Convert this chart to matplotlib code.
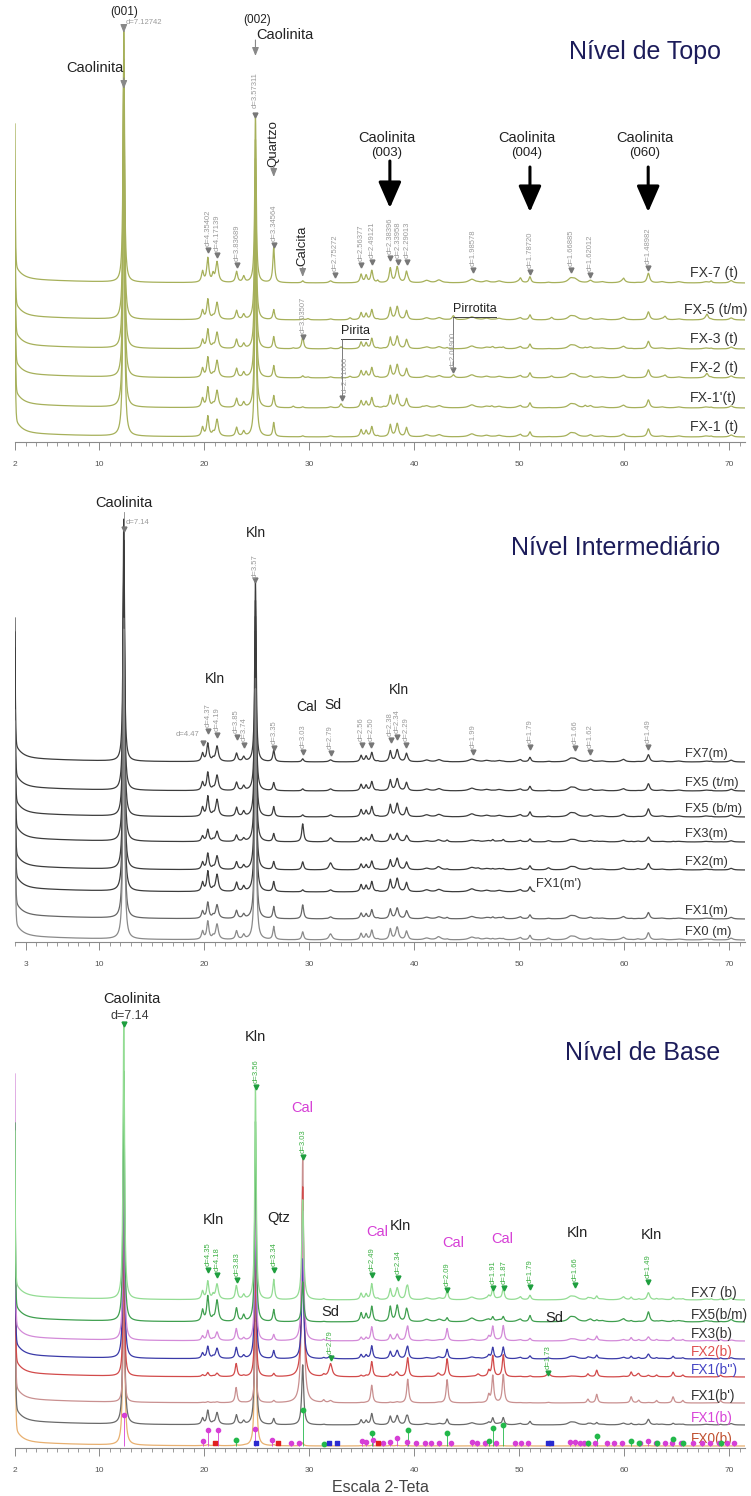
import numpy as np
import matplotlib.pyplot as plt
from matplotlib.ticker import FixedLocator, MultipleLocator

plt.rcParams["font.family"] = ["Liberation Sans", "DejaVu Sans"]

# ------------------ figure geometry (pixels) ------------------
W_PX, H_PX = 751, 1496
X_LEFT_PX, X_RIGHT_PX = 15, 745
TT_MIN, TT_MAX = 2.0, 71.52

# ------------------ mineral reflections (2-theta, Cu Ka) ------------------
KLN_001, KLN_002 = 12.36, 24.90
KLN_POS = [19.86, 20.36, 21.24, 23.10, 23.78, 34.96, 35.44, 35.98, 37.74, 38.40, 39.28,
           41.2, 42.4, 45.50, 46.9, 48.1, 50.0, 51.04, 54.90, 55.30, 56.80, 57.9, 59.90,
           62.32, 63.6, 65.2, 67.8, 70.2]
KLN_H = [9, 20, 17, 9, 5, 7, 6, 10, 12, 13, 9,
         2, 2, 3, 1.5, 1.5, 1.5, 5, 3, 3, 2, 1, 2,
         8, 1, 1, 1, 2]
KLN_W = [0.12, 0.12, 0.15, 0.12, 0.12, 0.12, 0.12, 0.12, 0.12, 0.15, 0.12,
         0.3, 0.3, 0.35, 0.3, 0.3, 0.3, 0.12, 0.3, 0.35, 0.2, 0.3, 0.3,
         0.15, 0.3, 0.3, 0.3, 0.2]
QTZ_POS = [20.86, 26.64, 36.54, 39.46, 50.14, 59.96, 68.30]
QTZ_REL = [0.2, 1.0, 0.06, 0.05, 0.1, 0.07, 0.05]
CAL_POS = [23.06, 29.40, 31.40, 35.97, 39.40, 43.15, 47.12, 47.50, 48.50, 56.56, 57.40,
           60.68, 61.40, 63.10, 64.67, 65.60, 69.20]
CAL_REL = [0.06, 1.0, 0.01, 0.07, 0.095, 0.095, 0.03, 0.11, 0.115, 0.015, 0.035,
           0.025, 0.01, 0.01, 0.025, 0.01, 0.01]
SD_POS = [24.80, 32.05, 38.30, 42.30, 46.10, 52.80, 61.30]
SD_REL = [0.2, 1.0, 0.2, 0.25, 0.2, 0.3, 0.15]
PY_POS = [28.50, 33.05, 37.10, 40.80, 47.40, 56.30]
PY_REL = [0.4, 1.0, 0.25, 0.2, 0.35, 0.5]
PO_POS = [29.90, 33.90, 43.75, 53.10, 63.90, 67.90]
PO_REL = [0.3, 0.5, 1.0, 0.6, 0.8, 1.2]

# ------------------ Nível de Topo ------------------
TOP_NAMES = ["FX-7 (t)", "FX-5 (t/m)", "FX-3 (t)", "FX-2 (t)", "FX-1'(t)", "FX-1 (t)"]
TOP_BASE = [159, 122, 93, 64, 34, 5]
TOP_K001 = [251, 260, 280, 300, 320, 330]
TOP_K002 = [168, 180, 190, 200, 210, 220]
TOP_KLN = [1.2, 1.0, 0.95, 1.0, 1.0, 1.0]
TOP_QTZ = [35, 10, 12, 12, 12, 14]
TOP_CAL = [2, 1, 12, 2, 1, 1]
TOP_SD = [2, 1, 1, 1, 1, 1]
TOP_PY = [0, 0, 2, 0, 4, 0]
TOP_PO = [0, 4, 0, 3, 0, 0]
TOP_SPIKE = [140, 120, 130, 140, 150, 160]

# ------------------ Nível Intermediário ------------------
MID_NAMES = ["FX7(m)", "FX5 (t/m)", "FX5 (b/m)", "FX3(m)", "FX2(m)", "FX1(m')", "FX1(m)", "FX0 (m)"]
MID_BASE = [180, 151, 125, 100, 72, 50, 23, 2]
MID_K001 = [242, 250, 260, 270, 280, 290, 300, 310]
MID_K002 = [180, 190, 200, 210, 220, 230, 240, 250]
MID_KLN = [0.9, 0.9, 1.0, 0.6, 0.8, 1.0, 0.8, 0.9]
MID_QTZ = [12, 8, 10, 8, 8, 10, 12, 13]
MID_CAL = [3, 2, 2, 18, 8, 2, 14, 8]
MID_SD = [2, 2, 2, 4, 7, 2, 2, 6]
MID_END = [71.52, 71.52, 71.52, 71.52, 71.52, 51.5, 71.52, 71.52]
MID_SPIKE = [125, 140, 150, 160, 170, 180, 190, 200]

# ------------------ Nível de Base ------------------
BOT_NAMES = ["FX7 (b)", "FX5(b/m)", "FX3(b)", "FX2(b)", "FX1(b'')", "FX1(b')", "FX1(b)", "FX0(b)"]
BOT_BASE = [148, 126, 107, 89, 71, 45, 23, 2]
BOT_K001 = [277, 250, 200, 220, 150, 100, 240, 250]
BOT_K002 = [213, 200, 150, 170, 120, 80, 200, 200]
BOT_KLN = [0.9, 1.25, 0.5, 0.6, 0.2, 0.05, 0.7, 0.05]
BOT_QTZ = [20, 12, 6, 8, 3, 2, 6, 1]
BOT_CAL = [100, 40, 130, 100, 190, 246, 60, 3]
BOT_SD = [0, 0, 0, 3, 13, 2, 0, 0]
BOT_SPIKE = [150, 180, 248, 200, 220, 240, 260, 280]

# phase markers under FX0(b)
MK_MAG_POS = [12.36, 19.9, 20.4, 21.3, 24.9, 26.5, 28.3, 29.0, 35.0, 35.4, 36.1, 37.0, 37.7,
              38.4, 39.3, 40.2, 41.0, 41.6, 42.4, 43.5, 45.5, 46.0, 46.8, 47.8, 49.6, 50.2,
              50.9, 54.9, 55.3, 55.8, 56.2, 57.2, 58.4, 59.0, 59.8, 61.5, 62.3, 63.0, 63.9,
              64.6, 65.4, 66.6, 67.4, 68.2, 69.0, 69.8, 70.5]
MK_MAG_H = [31, 5, 16, 16, 17, 6, 3, 3, 5, 4, 6, 3, 4,
            8, 4, 3, 3, 3, 3, 3, 4, 3, 3, 3, 3, 3,
            3, 4, 4, 3, 3, 3, 3, 3, 3, 3, 5, 3, 3,
            3, 3, 3, 3, 3, 3, 3, 3]
MK_CAL_H = [6, 36, 2, 13, 16, 13, 5, 18, 21, 3, 10, 5, 3, 3, 7, 3, 3]
MK_BLUE_POS = [24.96, 31.9, 32.7, 52.75, 53.0]
MK_BLUE_H = [3, 3, 3, 3, 3]
MK_RED_POS = [21.0, 27.0, 36.6]
MK_RED_H = [3, 3, 3]

two_theta = np.arange(TT_MIN, TT_MAX, 0.02)


def lorentz(x, pos, h, w):
    return h / (1.0 + ((x - pos) / w) ** 2)


def pattern(x, spike, k001, k002, kln, qtz, cal, sd, py=0, po=0):
    y = spike * np.exp(-(x - TT_MIN) / 0.04)
    y += 14 * np.exp(-(x - TT_MIN) / 0.6) + 5 * np.exp(-(x - TT_MIN) / 6.0)
    y += lorentz(x, KLN_001, k001, 0.08) + lorentz(x, KLN_002, k002, 0.08)
    for p, h, w in zip(KLN_POS, KLN_H, KLN_W):
        y += lorentz(x, p, h * kln, w)
    for p, r in zip(QTZ_POS, QTZ_REL):
        y += lorentz(x, p, qtz * r, 0.1)
    for p, r in zip(CAL_POS, CAL_REL):
        y += lorentz(x, p, cal * r, 0.11)
    for p, r in zip(SD_POS, SD_REL):
        y += lorentz(x, p, sd * r, 0.18)
    for p, r in zip(PY_POS, PY_REL):
        y += lorentz(x, p, py * r, 0.12)
    for p, r in zip(PO_POS, PO_REL):
        y += lorentz(x, p, po * r, 0.14)
    return y


def make_axes(fig, top_row, axis_row, first_tick):
    h = axis_row - top_row
    ax = fig.add_axes([X_LEFT_PX / W_PX, 1 - axis_row / H_PX,
                       (X_RIGHT_PX - X_LEFT_PX) / W_PX, h / H_PX])
    ax.set_xlim(TT_MIN, TT_MAX)
    ax.set_ylim(0, h)
    for s in ["left", "right", "top"]:
        ax.spines[s].set_visible(False)
    ax.spines["bottom"].set_color("#8a8a8a")
    ax.spines["bottom"].set_linewidth(0.8)
    ax.set_yticks([])
    ax.xaxis.set_major_locator(FixedLocator([first_tick, 10, 20, 30, 40, 50, 60, 70]))
    ax.xaxis.set_minor_locator(MultipleLocator(1))
    ax.tick_params(axis="x", which="major", length=6, width=0.7, color="#8a8a8a",
                   labelsize=6, labelcolor="#555555", pad=8)
    ax.tick_params(axis="x", which="minor", length=3, width=0.6, color="#8a8a8a")
    ax.patch.set_alpha(0)
    return ax


def d_marks(ax, axis_row, marks, tcolor, mcolor):
    for tt, lab, row in marks:
        y = axis_row - row
        ax.plot(tt, y, marker="v", ms=3.5, color=mcolor, clip_on=False, zorder=5)
        ax.text(tt, y + 4, lab, rotation=90, ha="center", va="bottom",
                fontsize=5.5, color=tcolor)


def big_arrow(ax, axis_row, tt, row_tail, row_tip):
    ax.annotate("", xy=(tt, axis_row - row_tip), xytext=(tt, axis_row - row_tail),
                arrowprops=dict(arrowstyle="-|>,head_length=0.8,head_width=0.35",
                                color="black", lw=2.2, mutation_scale=20,
                                shrinkA=0, shrinkB=0))


def thin_arrow(ax, axis_row, tt, row_tail, row_tip, color="#888888"):
    ax.annotate("", xy=(tt, axis_row - row_tip), xytext=(tt, axis_row - row_tail),
                arrowprops=dict(arrowstyle="-|>,head_length=0.5,head_width=0.2",
                                color=color, lw=0.8, shrinkA=0, shrinkB=0))


fig = plt.figure(figsize=(W_PX / 100, H_PX / 100), dpi=100)
NAVY = "#1c1c5a"
DGRAY = "#9a9a9a"

# ================== top panel ==================
TOP_AXIS = 442
ax1 = make_axes(fig, 0, TOP_AXIS, 2)
top_label_x = [66.3, 65.7, 66.3, 66.3, 66.3, 66.3]
for i, name in enumerate(TOP_NAMES):
    y = pattern(two_theta, TOP_SPIKE[i], TOP_K001[i], TOP_K002[i], TOP_KLN[i], TOP_QTZ[i],
                TOP_CAL[i], TOP_SD[i], TOP_PY[i], TOP_PO[i])
    ax1.plot(two_theta, TOP_BASE[i] + y, color="#a6b05a", lw=0.9)
    ax1.text(top_label_x[i], TOP_BASE[i] + 10, name, fontsize=10.2, color="#333333",
             va="center")

ax1.text(69.2, TOP_AXIS - 52, "Nível de Topo", fontsize=18, color=NAVY, ha="right", va="center")
ax1.text(12.36, TOP_AXIS - 12, "(001)", fontsize=8.5, ha="center", va="center", color="#222222")
ax1.text(12.5, TOP_AXIS - 23, "d=7.12742", fontsize=5.5, ha="left", va="center", color=DGRAY)
thin_arrow(ax1, TOP_AXIS, 12.36, 26, 33)
ax1.text(12.3, TOP_AXIS - 68, "Caolinita", fontsize=10.5, ha="right", va="center", color="#222222")
thin_arrow(ax1, TOP_AXIS, 12.36, 78, 89)
ax1.text(25.1, TOP_AXIS - 20, "(002)", fontsize=8.5, ha="center", va="center", color="#222222")
ax1.text(24.95, TOP_AXIS - 35, "Caolinita", fontsize=10.5, ha="left", va="center", color="#222222")
thin_arrow(ax1, TOP_AXIS, 24.90, 40, 56)
ax1.text(24.90, TOP_AXIS - 90, "d=3.57311", rotation=90, fontsize=5.5, ha="center",
         va="center", color=DGRAY)
ax1.plot(24.90, TOP_AXIS - 115, marker="v", ms=3.5, color="#777777")
ax1.text(26.64, TOP_AXIS - 144, "Quartzo", rotation=90, fontsize=9.5, ha="center",
         va="center", color="#222222")
thin_arrow(ax1, TOP_AXIS, 26.64, 166, 177)
ax1.text(29.40, TOP_AXIS - 246, "Calcita", rotation=90, fontsize=9.5, ha="center",
         va="center", color="#222222")
thin_arrow(ax1, TOP_AXIS, 29.40, 267, 277)

for tt, hkl in [(37.70, "(003)"), (51.04, "(004)"), (62.30, "(060)")]:
    ax1.text(tt - 0.3, TOP_AXIS - 138, "Caolinita", fontsize=10.5, ha="center",
             va="center", color="#222222")
    ax1.text(tt - 0.3, TOP_AXIS - 153, hkl, fontsize=9.5, ha="center", va="center",
             color="#222222")
big_arrow(ax1, TOP_AXIS, 37.70, 161, 208)
big_arrow(ax1, TOP_AXIS, 51.04, 167, 212)
big_arrow(ax1, TOP_AXIS, 62.30, 167, 212)

TOP_D = [(20.38, "d=4.35402", 250), (21.28, "d=4.17139", 255), (23.16, "d=3.83689", 265),
         (26.64, "d=3.34564", 245), (32.50, "d=2.75272", 275), (34.97, "d=2.56377", 265),
         (36.02, "d=2.49121", 262), (37.70, "d=2.38396", 258), (38.44, "d=2.33958", 262),
         (39.30, "d=2.29013", 262), (45.65, "d=1.98578", 270), (51.06, "d=1.78720", 272),
         (54.98, "d=1.66885", 270), (56.78, "d=1.62012", 275), (62.27, "d=1.48982", 268),
         (29.40, "d=3.03507", 337)]
d_marks(ax1, TOP_AXIS, TOP_D, DGRAY, "#777777")

# Pirita / Pirrotita brackets
ax1.text(33.0, TOP_AXIS - 331, "Pirita", fontsize=9, ha="left", va="center", color="#222222")
ax1.plot([33.0, 35.6], [TOP_AXIS - 339] * 2, color="#444444", lw=0.7)
ax1.plot([33.1, 33.1], [TOP_AXIS - 339, TOP_AXIS - 396], color="#666666", lw=0.6)
ax1.plot(33.1, TOP_AXIS - 398, marker="v", ms=3.5, color="#777777")
ax1.text(33.45, TOP_AXIS - 375, "d=2.71000", rotation=90, fontsize=5.5, ha="center",
         va="center", color=DGRAY)
ax1.text(43.75, TOP_AXIS - 309, "Pirrotita", fontsize=9, ha="left", va="center", color="#222222")
ax1.plot([43.7, 47.8], [TOP_AXIS - 317] * 2, color="#444444", lw=0.7)
ax1.plot([43.75, 43.75], [TOP_AXIS - 317, TOP_AXIS - 368], color="#666666", lw=0.6)
ax1.plot(43.75, TOP_AXIS - 370, marker="v", ms=3.5, color="#777777")
ax1.text(43.75, TOP_AXIS - 350, "d=2.06900", rotation=90, fontsize=5.5, ha="center",
         va="center", color=DGRAY)

# ================== middle panel ==================
MID_AXIS = 942
ax2 = make_axes(fig, 470, MID_AXIS, 3)
mid_colors = ["#3c3c3c"] * 6 + ["#666666", "#8a8a8a"]
for i, name in enumerate(MID_NAMES):
    mask = two_theta <= MID_END[i]
    y = pattern(two_theta, MID_SPIKE[i], MID_K001[i], MID_K002[i], MID_KLN[i], MID_QTZ[i],
                MID_CAL[i], MID_SD[i])
    ax2.plot(two_theta[mask], MID_BASE[i] + y[mask], color=mid_colors[i], lw=0.9)
    lx = 51.6 if MID_END[i] < 60 else 65.8
    ax2.text(lx, MID_BASE[i] + 8, name, fontsize=9.3, color="#333333", va="center")

ax2.text(69.2, MID_AXIS - 548, "Nível Intermediário", fontsize=18, color=NAVY,
         ha="right", va="center")
ax2.text(12.36, MID_AXIS - 503, "Caolinita", fontsize=10.5, ha="center", va="center",
         color="#222222")
ax2.text(12.5, MID_AXIS - 522, "d=7.14", fontsize=5.5, ha="left", va="center", color=DGRAY)
ax2.plot([12.36, 12.36], [MID_AXIS - 512, MID_AXIS - 527], color="#888888", lw=0.6)
ax2.plot(12.36, MID_AXIS - 529, marker="v", ms=3.5, color="#777777")
ax2.text(24.9, MID_AXIS - 533, "Kln", fontsize=10, ha="center", va="center", color="#222222")
ax2.text(24.9, MID_AXIS - 566, "d=3.57", rotation=90, fontsize=5.5, ha="center",
         va="center", color=DGRAY)
ax2.plot(24.9, MID_AXIS - 580, marker="v", ms=3.5, color="#777777")
for tt, s, row in [(21.05, "Kln", 679), (29.8, "Cal", 707), (32.3, "Sd", 705), (38.6, "Kln", 690)]:
    ax2.text(tt, MID_AXIS - row, s, fontsize=10, ha="center", va="center", color="#222222")
ax2.text(19.55, MID_AXIS - 735, "d=4.47", fontsize=5.5, ha="right", va="center", color=DGRAY)
ax2.plot(19.86, MID_AXIS - 743, marker="v", ms=3.5, color="#777777")
MID_D = [(20.36, "d=4.37", 731), (21.24, "d=4.19", 735), (23.10, "d=3.85", 737),
         (23.78, "d=3.74", 745), (26.64, "d=3.35", 748), (29.42, "d=3.03", 752),
         (32.05, "d=2.79", 753), (35.00, "d=2.56", 745), (35.90, "d=2.50", 745),
         (37.76, "d=2.38", 740), (38.42, "d=2.34", 737), (39.28, "d=2.29", 745),
         (45.60, "d=1.99", 752), (51.02, "d=1.79", 747), (55.30, "d=1.66", 748),
         (56.80, "d=1.62", 752), (62.30, "d=1.49", 747)]
d_marks(ax2, MID_AXIS, MID_D, DGRAY, "#777777")

# ================== bottom panel ==================
BOT_AXIS = 1448
ax3 = make_axes(fig, 975, BOT_AXIS, 2)
bot_colors = ["#93dc93", "#3f9f4f", "#d38ad8", "#3a3aa8", "#d24a4a", "#c99090", "#6a6a6a", "#e8b070"]
bot_label_colors = ["#333333", "#333333", "#333333", "#e05050", "#4444c4", "#333333",
                    "#d845d8", "#c05030"]
for i in range(len(BOT_NAMES) - 1, -1, -1):
    y = pattern(two_theta, BOT_SPIKE[i], BOT_K001[i], BOT_K002[i], BOT_KLN[i], BOT_QTZ[i],
                BOT_CAL[i], BOT_SD[i])
    ax3.plot(two_theta, BOT_BASE[i] + y, color=bot_colors[i], lw=0.9)
    ax3.text(66.4, BOT_BASE[i] + 7, BOT_NAMES[i], fontsize=9.8, color=bot_label_colors[i],
             va="center")

# phase markers
MAG = "#d63fd6"
GRN = "#22b84a"
ax3.vlines(MK_MAG_POS, 2, [2 + h for h in MK_MAG_H], color=MAG, lw=0.6)
ax3.scatter(MK_MAG_POS, [2 + h for h in MK_MAG_H], s=9, color=MAG, zorder=4)
ax3.vlines(CAL_POS, 2, [2 + h for h in MK_CAL_H], color=GRN, lw=0.6)
ax3.scatter(CAL_POS, [2 + h for h in MK_CAL_H], s=10, color=GRN, zorder=4)
ax3.scatter(MK_BLUE_POS, [2 + h for h in MK_BLUE_H], s=9, marker="s", color="#2a2ad0", zorder=4)
ax3.scatter(MK_RED_POS, [2 + h for h in MK_RED_H], s=9, marker="s", color="#e02020", zorder=4)

ax3.text(69.2, BOT_AXIS - 1053, "Nível de Base", fontsize=18, color=NAVY, ha="right", va="center")
ax3.text(13.1, BOT_AXIS - 999, "Caolinita", fontsize=10.5, ha="center", va="center",
         color="#222222")
ax3.text(12.9, BOT_AXIS - 1016, "d=7.14", fontsize=9, ha="center", va="center", color="#3a3a3a")
ax3.plot(12.36, BOT_AXIS - 1024, marker="v", ms=3.5, color="#1e9e3e")
BOT_LABELS = [(24.9, "Kln", 1037, "#222222"), (29.4, "Cal", 1108, MAG),
              (20.9, "Kln", 1220, "#222222"), (27.1, "Qtz", 1218, "#222222"),
              (36.5, "Cal", 1232, MAG), (38.7, "Kln", 1226, "#222222"),
              (43.7, "Cal", 1243, MAG), (48.4, "Cal", 1239, MAG),
              (55.6, "Kln", 1233, "#222222"), (62.6, "Kln", 1235, "#222222"),
              (32.0, "Sd", 1312, "#222222"), (53.4, "Sd", 1318, "#222222")]
for tt, s, row, c in BOT_LABELS:
    ax3.text(tt, BOT_AXIS - row, s, fontsize=10.5, ha="center", va="center", color=c)
BOT_D = [(20.38, "d=4.35", 1270), (21.24, "d=4.18", 1275), (23.16, "d=3.83", 1280),
         (26.64, "d=3.34", 1270), (36.02, "d=2.49", 1275), (38.44, "d=2.34", 1278),
         (43.18, "d=2.09", 1290), (47.56, "d=1.91", 1288), (48.54, "d=1.87", 1288),
         (51.04, "d=1.79", 1287), (55.30, "d=1.66", 1285), (62.30, "d=1.49", 1282),
         (32.05, "d=2.79", 1358), (52.80, "d=1.73", 1373), (24.96, "d=3.56", 1087),
         (29.42, "d=3.03", 1157)]
d_marks(ax3, BOT_AXIS, BOT_D, "#3cb043", "#1e9e3e")
ax3.set_xlabel("Escala 2-Teta", fontsize=11.5, color="#444444", labelpad=4)

fig.savefig("out.png", dpi=100)
